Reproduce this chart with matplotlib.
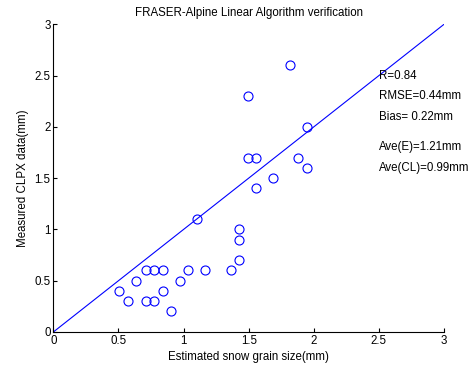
import matplotlib
matplotlib.use("Agg")
import matplotlib.pyplot as plt

plt.rcParams['font.family'] = ['Liberation Sans', 'DejaVu Sans']

estimated = [0.505, 0.574, 0.638, 0.708, 0.708, 0.772, 0.772, 0.841, 0.841, 0.903,
             0.972, 1.033, 1.10, 1.164, 1.364, 1.428, 1.428, 1.428, 1.556,
             1.82, 1.495, 1.95, 1.495, 1.56, 1.88, 1.95, 1.69]
measured = [0.40, 0.30, 0.50, 0.60, 0.30, 0.60, 0.30, 0.60, 0.40, 0.20,
            0.50, 0.60, 1.10, 0.60, 0.60, 0.70, 0.90, 1.00, 1.40,
            2.60, 2.30, 2.00, 1.70, 1.70, 1.70, 1.60, 1.50]
line_x = [0, 3]
line_y = [0, 3]
stats = ["R=0.84", "RMSE=0.44mm", "Bias= 0.22mm", "Ave(E)=1.21mm", "Ave(CL)=0.99mm"]
stats_y = [2.5, 2.3, 2.1, 1.8, 1.6]
ticks = [0, 0.5, 1, 1.5, 2, 2.5, 3]
tick_labels = ["0", "0.5", "1", "1.5", "2", "2.5", "3"]

fs = 8.3
fig = plt.figure(figsize=(4.7, 3.66), dpi=100)
ax = fig.add_axes([0.1135, 0.0929, 0.8312, 0.8407])
ax.plot(line_x, line_y, color='blue', lw=0.8)
ax.plot(estimated, measured, 'o', mfc='none', mec='blue', ms=6.5, mew=0.8, clip_on=False)
for s, y in zip(stats, stats_y):
    ax.text(2.5, y, s, fontsize=fs, va='center', ha='left')
ax.set_xlim(0, 3)
ax.set_ylim(0, 3)
ax.set_xticks(ticks)
ax.set_xticklabels(tick_labels)
ax.set_yticks(ticks)
ax.set_yticklabels(tick_labels)
ax.tick_params(direction='in', length=3, width=0.8, labelsize=fs, pad=2)
for sp in ['top', 'right']:
    ax.spines[sp].set_visible(False)
for sp in ['left', 'bottom']:
    ax.spines[sp].set_linewidth(0.8)
ax.set_xlabel("Estimated snow grain size(mm)", fontsize=fs, labelpad=3)
ax.set_ylabel("Measured CLPX data(mm)", fontsize=fs, labelpad=4)
ax.set_title("FRASER-Alpine Linear Algorithm verification", fontsize=fs, pad=6)
fig.savefig("out.png", dpi=100)
